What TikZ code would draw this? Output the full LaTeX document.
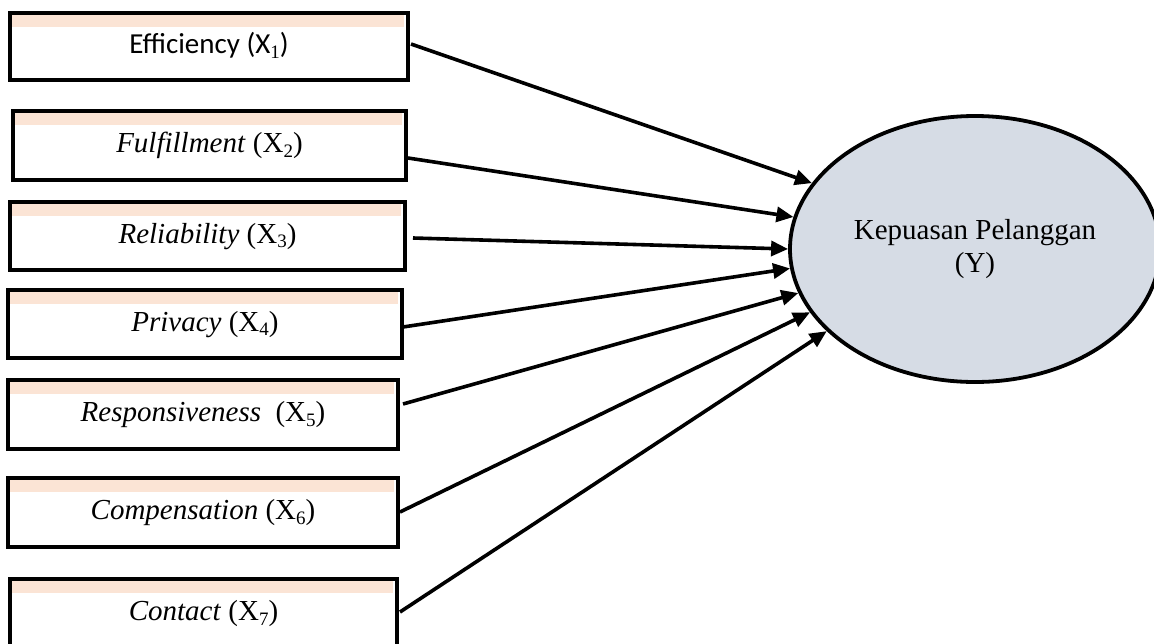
\documentclass[tikz,border=0pt]{standalone}
\usepackage{fontspec}
\setmainfont{Liberation Serif}
\newfontfamily\calibri{Carlito}
\usetikzlibrary{arrows.meta,shapes.geometric}
\definecolor{peach}{HTML}{FBE4D5}
\definecolor{ellfill}{HTML}{D6DCE5}
\newcommand\sbx[1]{\raisebox{-4.5pt}{\fontsize{19}{19}\selectfont\rmfamily\upshape #1}}
\begin{document}
\begin{tikzpicture}[x=1pt,y=-1pt,
  varbox/.style={draw=black, fill=white, line width=4pt, inner sep=0pt, outer sep=0pt,
    text height=20pt, text depth=6pt, font=\fontsize{29}{33}\selectfont},
  band/.style={fill=peach},
  link/.style={line width=3.6pt, -{Triangle[length=17pt,width=15pt]}},
  target/.style={ellipse, draw=black, fill=ellfill, line width=3.8pt,
    minimum width=370pt, minimum height=266pt, inner sep=0pt, align=center,
    font=\fontsize{29}{33}\selectfont}]
\useasboundingbox (0,0) rectangle (1154,643);
\clip (0,0) rectangle (1154,643);
\node[target] (Y) at (975,249) {Kepuasan Pelanggan\\(Y)};
\node[varbox, minimum width=398pt, minimum height=67pt] (b1) at (209,46.5) {\calibri Efficiency (X\sbx{1})};
\node[varbox, minimum width=393pt, minimum height=69pt] (b2) at (209.5,145.5) {\textit{Fulfillment} (X\sbx{2})};
\node[varbox, minimum width=395pt, minimum height=68pt] (b3) at (207.5,236) {\textit{Reliability} (X\sbx{3})};
\node[varbox, minimum width=394pt, minimum height=68pt] (b4) at (205,324) {\textit{Privacy} (X\sbx{4})};
\node[varbox, minimum width=390pt, minimum height=69pt] (b5) at (203,414.5) {\textit{Responsiveness}\ \ (X\sbx{5})};
\node[varbox, minimum width=390pt, minimum height=69pt] (b6) at (203,512.5) {\textit{Compensation} (X\sbx{6})};
\node[varbox, minimum width=387pt, minimum height=69pt] (b7) at (203.5,613.5) {\textit{Contact} (X\sbx{7})};
\foreach \b in {b1,b2,b3,b4,b5,b6,b7}
  \fill[band] ([shift={(2pt,-2pt)}]\b.north west) rectangle ([shift={(-4pt,-14pt)}]\b.north east);
\draw[link] ([shift={(3pt,2.5pt)}]b1.east) -- (Y.158.4);
\draw[link] ([shift={(2pt,-12.5pt)}]b2.east) -- (Y.170);
\draw[link] ([shift={(8pt,-2pt)}]b3.east) -- (Y.180);
\draw[link] ([shift={(1pt,-3pt)}]b4.east) -- (Y.186.2);
\draw[link] ([shift={(5pt,10.5pt)}]b5.east) -- (Y.194.7);
\draw[link] ([shift={(2pt,0.5pt)}]b6.east) -- (Y.201.9);
\draw[link] ([shift={(3pt,1.5pt)}]b7.east) -- (Y.209.9);
\end{tikzpicture}
\end{document}
